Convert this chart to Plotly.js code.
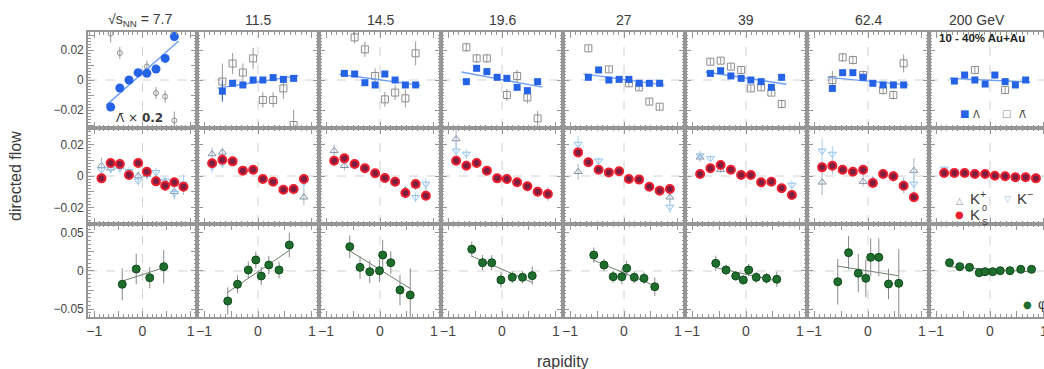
<!DOCTYPE html>
<html>
<head>
<meta charset="utf-8">
<script src="https://cdn.plot.ly/plotly-3.0.1.min.js"></script>
<style>
  html, body { margin: 0; padding: 0; overflow: hidden; background: #fff; }
  #chart { width: 1052px; height: 369px; }
</style>
</head>
<body>
<div id="chart"></div>
<script>
// ---- Directed flow v1(y) of Lambda, K and phi, 10-40% Au+Au, eight beam energies ----

const energies = ['7.7', '11.5', '14.5', '19.6', '27', '39', '62.4', '200'];

// Row 1: Lambda (filled) and anti-Lambda (open; x0.2 at 7.7 GeV)
const lambdaRap = [-0.66, -0.47, -0.28, -0.09, 0.09, 0.28, 0.47, 0.66];
const lambdaV = [
  [-0.018, -0.0053, 0.0, 0.0049, 0.0045, 0.0073, 0.0144, 0.029],
  [-0.0075, -0.0022, -0.0033, 0.0, 0.0, 0.0016, 0.0004, 0.0011],
  [0.0044, 0.004, -0.0018, -0.0033, 0.004, 0.0, -0.0033, -0.0033],
  [-0.0011, 0.0078, 0.0056, 0.0018, 0.0011, -0.0049, -0.0071, -0.0011],
  [0.0018, 0.0067, 0.0, 0.0004, 0.0004, -0.0022, -0.0022, -0.0022],
  [0.0044, 0.0062, 0.0027, 0.0011, 0.0, -0.0011, -0.0049, 0.0018],
  [-0.0056, 0.0049, 0.0049, 0.0018, -0.0022, -0.0033, -0.0033, -0.0033],
  [-0.0007, 0.0033, 0.0, -0.0027, 0.0033, -0.0011, -0.0033, 0.0]
];
const lambdaErr = [
  [0.002, 0.0015, 0.0015, 0.0015, 0.0015, 0.0015, 0.0015, 0.002],
  [0.007, 0.002, 0.0015, 0.0015, 0.0015, 0.0015, 0.0015, 0.002],
  [0.0015, 0.0015, 0.0012, 0.0012, 0.0012, 0.0012, 0.0015, 0.0015],
  [0.0012, 0.001, 0.001, 0.001, 0.001, 0.001, 0.001, 0.0012],
  [0.001, 0.001, 0.001, 0.001, 0.001, 0.001, 0.001, 0.001],
  [0.001, 0.001, 0.001, 0.001, 0.001, 0.001, 0.001, 0.001],
  [0.0015, 0.001, 0.001, 0.001, 0.001, 0.001, 0.001, 0.0015],
  [0.001, 0.001, 0.001, 0.001, 0.001, 0.001, 0.001, 0.001]
];
const antiLambdaV = [
  [0.031, 0.018, null, null, 0.009, -0.0087, -0.011, -0.027],
  [-0.001, 0.011, 0.005, 0.0144, -0.0133, -0.0133, -0.0056, -0.030],
  [null, 0.0284, 0.0204, 0.0027, -0.0129, -0.0084, -0.0122, 0.0178],
  [0.0218, 0.0144, 0.0144, null, -0.010, 0.0027, -0.0116, -0.0256],
  [0.0211, null, 0.0071, null, -0.0022, -0.0049, -0.0144, -0.0178],
  [0.0122, 0.0129, 0.0089, 0.0067, -0.0056, -0.0049, -0.0084, -0.016],
  [0.0, 0.0151, 0.0133, 0.0033, null, -0.0067, -0.010, 0.0111],
  [null, null, 0.0067, null, null, -0.0067, null, null]
];
const antiLambdaErr = [
  [0.006, 0.004, 0.004, 0.004, 0.004, 0.004, 0.004, 0.006],
  [0.012, 0.007, 0.006, 0.007, 0.005, 0.005, 0.007, 0.010],
  [0.005, 0.004, 0.005, 0.005, 0.005, 0.005, 0.006, 0.008],
  [0.003, 0.003, 0.003, 0.003, 0.004, 0.004, 0.004, 0.005],
  [0.002, 0.002, 0.002, 0.002, 0.002, 0.002, 0.002, 0.002],
  [0.002, 0.002, 0.002, 0.002, 0.002, 0.002, 0.002, 0.002],
  [0.006, 0.003, 0.003, 0.003, 0.003, 0.003, 0.003, 0.006],
  [0.002, 0.002, 0.002, 0.002, 0.002, 0.002, 0.002, 0.002]
];

// Row 2: K0S (filled), K+ and K- (open triangles)
const kaonRap = [-0.85, -0.66, -0.47, -0.28, -0.09, 0.09, 0.28, 0.47, 0.66, 0.85];
const k0sV = [
  [-0.0015, 0.0083, 0.0076, 0.0006, 0.0083, 0.0027, -0.0034, -0.0062, -0.004, -0.0068],
  [0.0081, 0.0103, 0.0093, 0.0034, 0.004, -0.0019, -0.0036, -0.0087, -0.0083, -0.0019],
  [0.0097, 0.0112, 0.0076, 0.0049, 0.0017, -0.0013, -0.0036, -0.0108, -0.0051, -0.0125],
  [0.0097, 0.0065, 0.0083, 0.0034, -0.0015, -0.0019, -0.004, -0.0065, -0.010, -0.0114],
  [0.015, 0.0087, 0.004, 0.0023, 0.003, -0.0019, -0.0023, -0.0068, -0.0093, -0.0083],
  [0.0013, 0.0049, 0.007, 0.004, 0.0006, 0.0006, -0.004, -0.0036, -0.0078, -0.0121],
  [0.0055, 0.0065, 0.004, 0.0027, 0.004, -0.0044, 0.0013, -0.0002, -0.0062, -0.0135],
  [0.0019, 0.0019, 0.0019, 0.0013, 0.0013, 0.0002, -0.0002, -0.0008, -0.0008, -0.0015]
];
const k0sErr = [0.003, 0.002, 0.002, 0.0015, 0.0015, 0.0015, 0.002, 0.001];
const kPlusV = [
  [0.0065, 0.005, 0.006, 0.001, 0.0, 0.001, -0.002, -0.004, -0.010, -0.006],
  [0.014, 0.015, 0.009, 0.004, 0.004, -0.002, -0.004, -0.008, -0.009, -0.0135],
  [0.016, 0.0065, 0.007, 0.005, 0.002, -0.001, -0.004, -0.009, -0.006, -0.012],
  [0.0235, 0.007, 0.008, 0.003, -0.001, -0.002, -0.004, -0.006, -0.010, -0.011],
  [0.0027, 0.009, 0.004, 0.002, 0.003, -0.002, -0.002, -0.007, -0.009, -0.0135],
  [0.0119, 0.005, 0.004, 0.004, 0.001, 0.0, -0.004, -0.004, -0.008, -0.012],
  [-0.004, 0.006, 0.004, 0.003, -0.0036, -0.003, 0.001, 0.0, -0.006, 0.0034],
  [0.0025, 0.002, 0.002, 0.0013, 0.0013, 0.0, 0.0, -0.001, -0.001, -0.001]
];
const kMinusV = [
  [0.004, 0.0045, 0.005, 0.003, -0.003, 0.001, 0.0023, -0.003, -0.011, -0.005],
  [0.006, 0.008, 0.009, 0.004, 0.004, -0.002, -0.003, -0.008, -0.008, -0.004],
  [0.010, 0.010, 0.008, 0.005, 0.001, -0.002, -0.003, -0.012, -0.0135, -0.005],
  [0.016, 0.014, 0.008, 0.004, -0.002, -0.002, -0.004, -0.007, -0.010, -0.012],
  [0.0203, 0.009, 0.0097, 0.003, 0.003, -0.002, -0.002, -0.007, -0.009, -0.0197],
  [0.013, 0.0112, 0.006, 0.004, 0.0, 0.001, -0.004, -0.003, -0.008, -0.0057],
  [0.016, 0.014, 0.004, 0.003, 0.003, -0.004, 0.001, -0.001, -0.006, -0.005],
  [0.0045, 0.003, 0.002, 0.0013, 0.001, 0.0, 0.0, -0.001, -0.001, -0.0005]
];
const kaonErr = [
  [0.005, 0.003, 0.003, 0.003, 0.003, 0.003, 0.003, 0.003, 0.004, 0.006],
  [0.004, 0.003, 0.002, 0.002, 0.002, 0.002, 0.002, 0.002, 0.003, 0.005],
  [0.004, 0.003, 0.002, 0.002, 0.002, 0.002, 0.002, 0.002, 0.003, 0.004],
  [0.006, 0.003, 0.002, 0.002, 0.002, 0.002, 0.002, 0.002, 0.003, 0.004],
  [0.005, 0.003, 0.002, 0.002, 0.002, 0.002, 0.002, 0.002, 0.003, 0.004],
  [0.003, 0.002, 0.002, 0.002, 0.002, 0.002, 0.002, 0.002, 0.002, 0.003],
  [0.008, 0.005, 0.003, 0.003, 0.003, 0.003, 0.003, 0.003, 0.005, 0.008],
  [0.002, 0.001, 0.001, 0.001, 0.001, 0.001, 0.001, 0.001, 0.001, 0.002]
];

// Row 3: phi meson
const phiRap = [
  [-0.42, -0.13, 0.15, 0.44],
  [-0.56, -0.38, -0.18, -0.04, 0.06, 0.2, 0.39, 0.58],
  [-0.56, -0.37, -0.19, -0.01, 0.05, 0.2, 0.37, 0.56],
  [-0.56, -0.36, -0.19, -0.02, 0.19, 0.38, 0.56],
  [-0.56, -0.37, -0.2, -0.04, 0.05, 0.19, 0.37, 0.57],
  [-0.56, -0.37, -0.19, -0.05, 0.05, 0.19, 0.38, 0.57],
  [-0.56, -0.36, -0.18, -0.04, 0.05, 0.2, 0.38, 0.57],
  [-0.75, -0.56, -0.38, -0.2, -0.09, 0.05, 0.19, 0.37, 0.57, 0.77]
];
const phiV = [
  [-0.0175, 0.0026, -0.0088, 0.0057],
  [-0.0395, -0.0175, 0.0013, 0.0145, -0.0066, 0.0079, 0.0013, 0.0342],
  [0.032, 0.0048, -0.0009, 0.0004, 0.021, 0.0109, -0.025, -0.0316],
  [0.0286, 0.0109, 0.0109, -0.0118, -0.0083, -0.0083, -0.0061],
  [0.021, 0.0079, -0.0075, -0.0075, 0.0036, -0.0083, -0.0096, -0.0207],
  [0.0101, 0.0013, -0.0066, -0.0118, 0.0013, -0.0083, -0.0096, -0.0109],
  [-0.0141, 0.0241, -0.003, -0.0096, 0.018, 0.018, -0.0171, -0.0162],
  [0.0109, 0.0057, 0.0048, -0.0022, -0.0009, -0.0009, 0.0004, 0.0004, 0.0022, 0.0022]
];
const phiErr = [
  [0.021, 0.020, 0.014, 0.022],
  [0.018, 0.012, 0.011, 0.011, 0.012, 0.012, 0.011, 0.016],
  [0.015, 0.015, 0.015, 0.015, 0.020, 0.015, 0.020, 0.035],
  [0.010, 0.010, 0.010, 0.010, 0.008, 0.008, 0.012],
  [0.010, 0.008, 0.008, 0.010, 0.010, 0.008, 0.008, 0.012],
  [0.010, 0.007, 0.006, 0.006, 0.008, 0.007, 0.007, 0.010],
  [0.030, 0.022, 0.025, 0.025, 0.025, 0.025, 0.020, 0.045],
  [0.003, 0.002, 0.002, 0.002, 0.002, 0.002, 0.002, 0.002, 0.002, 0.005]
];

// ---- page geometry (pixels) ----
const W = 1052, H = 369;
const colEdges = [88, 197, 319, 441, 563, 685, 807, 929, 1051];
const rowEdges = [32, 128, 224, 317];
const xRange = [-1.13, 1.13];
const yRanges = [[-0.032, 0.032], [-0.0305, 0.0305], [-0.0605, 0.0618]];
const yTickVals = [
  [-0.03, -0.02, -0.01, 0, 0.01, 0.02, 0.03],
  [-0.03, -0.02, -0.01, 0, 0.01, 0.02, 0.03],
  [-0.05, -0.025, 0, 0.025, 0.05]
];
const yTickText = [
  ['', '\u22120.02', '', '0', '', '0.02', ''],
  ['', '\u22120.02', '', '0', '', '0.02', ''],
  ['\u22120.05', '', '0', '', '0.05']
];
const yMinor = [0.002, 0.002, 0.005];

const frame = '#969696';
const textCol = '#3a3a3a';
const FONT = 'Liberation Sans, Arial, Helvetica, sans-serif';
const SYMFONT = 'DejaVu Sans, sans-serif';

const colours = {
  lambda: '#2563e6', lambdaFit: '#6f9ff2',
  antiLambda: '#8c8c8c',
  k0sFill: '#7d1d40', k0sRim: '#ef1f2d',
  kPlus: '#8494a8', kMinus: '#8fc2ee',
  phi: '#1f6e2d', phiEdge: '#0f4a1b', phiFit: '#6c7f6c',
  err: '#9a9a9a'
};

function axisId(idx) { return idx === 1 ? '' : String(idx); }

function linFit(xs, ys) {
  const pts = xs.map((x, i) => [x, ys[i]]).filter(p => p[1] !== null);
  const n = pts.length;
  const mx = pts.reduce((s, p) => s + p[0], 0) / n;
  const my = pts.reduce((s, p) => s + p[1], 0) / n;
  let sxy = 0, sxx = 0;
  pts.forEach(p => { sxy += (p[0] - mx) * (p[1] - my); sxx += (p[0] - mx) ** 2; });
  const b = sxy / sxx;
  return x => my + b * (x - mx);
}

const layout = {
  width: W, height: H,
  margin: { l: 0, r: 0, t: 0, b: 0 },
  paper_bgcolor: '#fff', plot_bgcolor: '#fff',
  showlegend: false,
  font: { family: FONT, color: textCol },
  shapes: [], annotations: []
};
const traces = [];

for (let r = 0; r < 3; r++) {
  for (let c = 0; c < 8; c++) {
    const idx = r * 8 + c + 1;
    const id = axisId(idx);
    layout['xaxis' + id] = {
      domain: [colEdges[c] / W, colEdges[c + 1] / W],
      range: xRange, anchor: 'y' + id,
      showline: true, mirror: 'ticks', linecolor: frame, linewidth: 1.8,
      ticks: 'inside', ticklen: 6, tickwidth: 1, tickcolor: frame,
      tickmode: 'array', tickvals: [-1, -0.5, 0, 0.5, 1], ticktext: ['\u22121', '', '0', '', '1'],
      showticklabels: r === 2, tickfont: { size: 14, color: '#444' },
      minor: { ticks: 'inside', tickmode: 'linear', tick0: 0, dtick: 0.1, ticklen: 3, tickcolor: frame, showgrid: false },
      showgrid: false, zeroline: false, fixedrange: true
    };
    layout['yaxis' + id] = {
      domain: [1 - rowEdges[r + 1] / H, 1 - rowEdges[r] / H],
      range: yRanges[r], anchor: 'x' + id,
      showline: true, mirror: 'ticks', linecolor: frame, linewidth: 1.8,
      ticks: 'inside', ticklen: 6, tickwidth: 1, tickcolor: frame,
      tickmode: 'array', tickvals: yTickVals[r], ticktext: yTickText[r],
      showticklabels: c === 0, tickfont: { size: 12, color: '#444' },
      minor: { ticks: 'inside', tickmode: 'linear', tick0: 0, dtick: yMinor[r], ticklen: 3, tickcolor: frame, showgrid: false },
      showgrid: false, zeroline: false, fixedrange: true
    };
    // dashed zero reference lines
    layout.shapes.push({ type: 'line', xref: 'x' + id + ' domain', x0: 0, x1: 1, yref: 'y' + id, y0: 0, y1: 0,
      line: { color: '#d2d2d2', width: 1, dash: 'dash' }, layer: 'below' });
    layout.shapes.push({ type: 'line', xref: 'x' + id, x0: 0, x1: 0, yref: 'y' + id + ' domain', y0: 0, y1: 1,
      line: { color: '#d2d2d2', width: 1, dash: 'dash' }, layer: 'below' });
  }
}

const errStyle = (arr, col) => ({ type: 'data', array: arr, color: col || colours.err, thickness: 1, width: 0 });

for (let c = 0; c < 8; c++) {
  // Lambda row
  const id1 = axisId(c + 1);
  traces.push({
    x: lambdaRap, y: antiLambdaV[c], xaxis: 'x' + id1, yaxis: 'y' + id1, mode: 'markers', type: 'scatter',
    marker: { symbol: c === 0 ? 'circle-open' : 'square-open', size: c === 0 ? 5 : 7, color: colours.antiLambda, line: { width: 1 } },
    error_y: errStyle(antiLambdaErr[c])
  });
  const lf = linFit(lambdaRap, lambdaV[c]);
  const lx = [-0.75, 0.75];
  traces.push({
    x: lx, y: lx.map(lf), xaxis: 'x' + id1, yaxis: 'y' + id1, mode: 'lines', type: 'scatter',
    line: { color: colours.lambdaFit, width: 1.4 }
  });
  traces.push({
    x: lambdaRap, y: lambdaV[c], xaxis: 'x' + id1, yaxis: 'y' + id1, mode: 'markers', type: 'scatter',
    marker: { symbol: c === 0 ? 'circle' : 'square', size: c === 0 ? 9 : 7, color: colours.lambda, line: { width: 0 } },
    error_y: errStyle(lambdaErr[c], '#3a5fb0')
  });

  // Kaon row
  const id2 = axisId(8 + c + 1);
  traces.push({
    x: kaonRap, y: kPlusV[c], xaxis: 'x' + id2, yaxis: 'y' + id2, mode: 'markers', type: 'scatter',
    marker: { symbol: 'triangle-up-open', size: 7, color: colours.kPlus, line: { width: 1 } },
    error_y: errStyle(kaonErr[c], '#a8b4c4')
  });
  traces.push({
    x: kaonRap, y: kMinusV[c], xaxis: 'x' + id2, yaxis: 'y' + id2, mode: 'markers', type: 'scatter',
    marker: { symbol: 'triangle-down-open', size: 7, color: colours.kMinus, line: { width: 1 } },
    error_y: errStyle(kaonErr[c], '#a9d0f0')
  });
  traces.push({
    x: kaonRap, y: k0sV[c], xaxis: 'x' + id2, yaxis: 'y' + id2, mode: 'markers', type: 'scatter',
    marker: { symbol: 'circle', size: 8, color: colours.k0sFill, line: { color: colours.k0sRim, width: 2 } },
    error_y: errStyle(kaonRap.map(() => k0sErr[c]), '#b04050')
  });

  // phi row
  const id3 = axisId(16 + c + 1);
  const pf = linFit(phiRap[c], phiV[c]);
  const pr = phiRap[c];
  const px = [pr[0], pr[pr.length - 1]];
  traces.push({
    x: px, y: px.map(pf), xaxis: 'x' + id3, yaxis: 'y' + id3, mode: 'lines', type: 'scatter',
    line: { color: colours.phiFit, width: 1 }
  });
  traces.push({
    x: phiRap[c], y: phiV[c], xaxis: 'x' + id3, yaxis: 'y' + id3, mode: 'markers', type: 'scatter',
    marker: { symbol: 'circle', size: 8, color: colours.phi, line: { color: colours.phiEdge, width: 1 } },
    error_y: errStyle(phiErr[c], '#8a8a8a')
  });
}

// ---- text ----
function ann(text, xp, yp, opt) {
  return Object.assign({
    xref: 'paper', yref: 'paper', x: xp / W, y: 1 - yp / H, text: text, showarrow: false,
    xanchor: 'center', yanchor: 'middle', font: { size: 14, color: textCol, family: FONT }
  }, opt || {});
}
const titleX = [140, 258, 380, 502, 624, 746, 868, 977];
energies.forEach((e, c) => {
  const t = c === 0 ? '\u221As<sub>NN</sub> = ' + e : (c === 7 ? e + ' GeV' : e);
  layout.annotations.push(ann(t, titleX[c], 20));
});
layout.annotations.push(ann('directed flow', 16, 176, { textangle: -90, font: { size: 16, color: textCol, family: FONT } }));
layout.annotations.push(ann('rapidity', 563, 361, { font: { size: 16, color: textCol, family: FONT } }));
layout.annotations.push(ann('\u039B\u0304 \u00D7 <b>0.2</b>', 114, 118, { xanchor: 'left', font: { size: 12, color: textCol, family: SYMFONT } }));
layout.annotations.push(ann('<b>10 - 40% Au+Au</b>', 937, 38, { xanchor: 'left', font: { size: 11.5, color: '#222', family: FONT } }));

// legend glyphs in the 200 GeV column
layout.annotations.push(ann('\u25A0', 964, 113, { font: { size: 10, color: colours.lambda, family: SYMFONT } }));
layout.annotations.push(ann('\u039B', 976, 114, { font: { size: 10, color: textCol, family: SYMFONT } }));
layout.annotations.push(ann('\u25A1', 1006, 113, { font: { size: 10, color: colours.antiLambda, family: SYMFONT } }));
layout.annotations.push(ann('\u039B\u0304', 1022, 114, { font: { size: 10, color: textCol, family: SYMFONT } }));

layout.annotations.push(ann('\u25B3', 959, 201, { font: { size: 9, color: colours.kPlus, family: SYMFONT } }));
layout.annotations.push(ann('K<sup>+</sup>', 968, 197, { xanchor: 'left', font: { size: 15, color: textCol, family: FONT } }));
layout.annotations.push(ann('\u25BD', 1007, 199, { font: { size: 9, color: colours.kMinus, family: SYMFONT } }));
layout.annotations.push(ann('K<sup>\u2212</sup>', 1015, 197, { xanchor: 'left', font: { size: 15, color: textCol, family: FONT } }));
layout.annotations.push(ann('\u25CF', 959, 215, { font: { size: 10, color: colours.k0sRim, family: SYMFONT } }));
layout.annotations.push(ann('K', 968, 215, { xanchor: 'left', font: { size: 15, color: textCol, family: FONT } }));
layout.annotations.push(ann('0', 980, 208, { xanchor: 'left', font: { size: 9, color: textCol, family: FONT } }));
layout.annotations.push(ann('S', 980, 222, { xanchor: 'left', font: { size: 9, color: textCol, family: FONT } }));

layout.annotations.push(ann('\u25CF', 1027, 304, { font: { size: 10, color: colours.phi, family: SYMFONT } }));
layout.annotations.push(ann('\u03C6', 1036, 304, { xanchor: 'left', font: { size: 14, color: textCol, family: FONT } }));

Plotly.newPlot('chart', traces, layout, { displayModeBar: false, staticPlot: true });
</script>
</body>
</html>
